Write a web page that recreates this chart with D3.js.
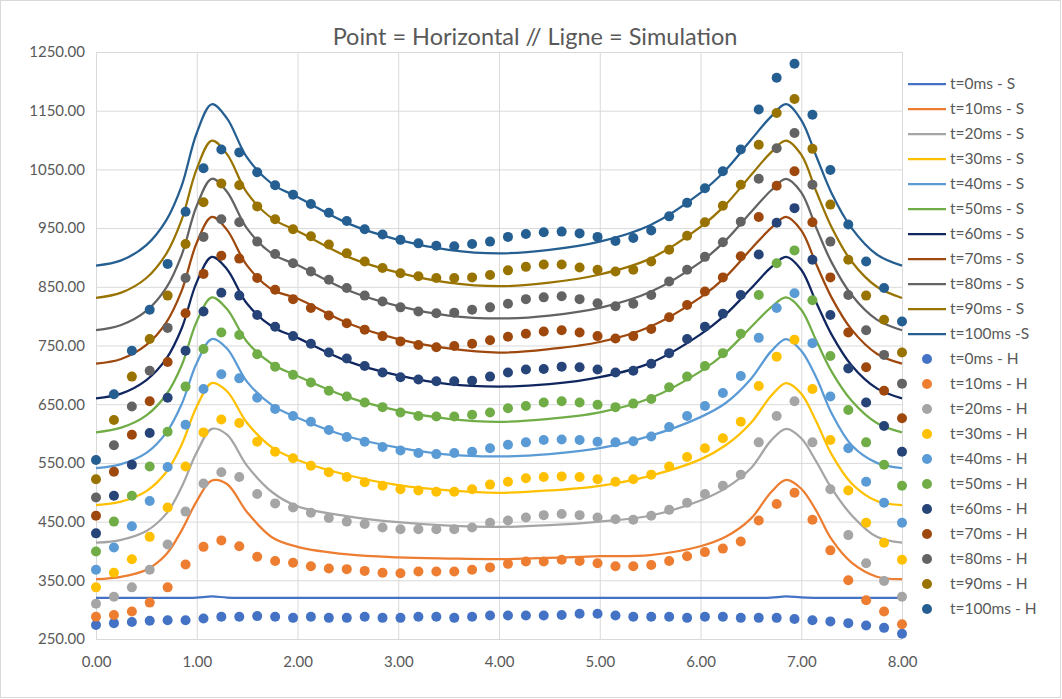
<!DOCTYPE html>
<html><head><meta charset="utf-8">
<script src="https://cdn.jsdelivr.net/npm/d3@7"></script>
<style>
body{margin:0;background:#fff;}
svg text{font-family:Lato,"Open Sans",sans-serif;fill:#595959;}
</style>
</head><body>
<svg id="chart" width="1062" height="699"></svg>
<script>
// ---------- DATA ----------
const title = "Point = Horizontal // Ligne = Simulation";
const yTicks = [250,350,450,550,650,750,850,950,1050,1150,1250];
const yTickLabels = ["250.00","350.00","450.00","550.00","650.00","750.00","850.00","950.00","1050.00","1150.00","1250.00"];
const xTicks = [0,1,2,3,4,5,6,7,8];
const xTickLabels = ["0.00","1.00","2.00","3.00","4.00","5.00","6.00","7.00","8.00"];

// positions of the measured points (horizontal)
const xPts = [0,0.178,0.356,0.533,0.711,0.889,1.067,1.244,1.422,1.6,1.778,1.956,2.133,2.311,2.489,2.667,2.844,3.022,3.2,3.378,3.556,3.733,3.911,4.089,4.267,4.444,4.622,4.8,4.978,5.156,5.333,5.511,5.689,5.867,6.044,6.222,6.4,6.578,6.756,6.933,7.111,7.289,7.467,7.644,7.822,8];
// positions of the simulation curve samples
const xSim = [0,0.25,0.5,0.7,0.85,1.0,1.15,1.3,1.5,1.75,2.0,2.5,3.0,3.5,4.0,4.5,5.0,5.5,6.0,6.25,6.5,6.7,6.85,7.0,7.15,7.3,7.5,7.75,8.0];

const simNames = ["t=0ms - S","t=10ms - S","t=20ms - S","t=30ms - S","t=40ms - S","t=50ms - S","t=60ms - S","t=70ms - S","t=80ms - S","t=90ms - S","t=100ms -S"];
const ptNames = ["t=0ms - H","t=10ms - H","t=20ms - H","t=30ms - H","t=40ms - H","t=50ms - H","t=60ms - H","t=70ms - H","t=80ms - H","t=90ms - H","t=100ms - H"];
const simColors = ["#4472c4","#ed7d31","#a5a5a5","#ffc000","#5b9bd5","#70ad47","#10265f","#9e480e","#636363","#997300","#255e91"];
const ptColors  = ["#4472c4","#ed7d31","#a5a5a5","#ffc000","#5b9bd5","#70ad47","#264478","#9e480e","#636363","#997300","#255e91"];

// simulation values
const sim0   = [320,320,320,320,320.2,320.6,322.5,320.6,320.2,320,320,320,320,320,320,320,320,320,320,320,320,320.6,322.5,320.8,320.2,320,320,320,320];
const sim10  = [352,356,368,395,435,485,520,514,466,423,407,394,389,387,386,388,391,393,408,424,455,500,521,506,468,420,380,356,352];
const sim20  = [414,419,434,464,509,568,608,598,545,500,476,459,449,443,441,444,450,460,486,507,541,588,608,592,552,507,461,424,414];
const sim30  = [478,484,502,535,581,646,686,672,618,576,555,529,512,503,499,503,511,528,556,580,618,664,686,668,620,565,515,485,478];
const sim40  = [541,548,567,602,650,720,761,745,688,648,627,595,576,564,561,565,575,596,628,652,693,740,761,741,695,635,580,550,541];
const sim50  = [602,610,631,667,716,791,832,812,756,718,698,662,639,625,620,625,636,660,706,738,781,815,832,811,758,706,656,618,602];
const sim60  = [660,668,691,728,779,858,901,880,821,782,763,723,699,684,680,684,696,720,769,803,847,883,901,879,823,769,716,677,660];
const sim70  = [719,727,751,790,843,925,969,947,886,845,830,788,761,745,738,744,756,782,832,867,914,950,969,946,888,832,777,736,719];
const sim80  = [776,785,809,849,904,988,1034,1012,949,906,887,844,817,801,796,801,814,841,892,929,977,1014,1034,1011,950,892,836,794,776];
const sim90  = [831,840,865,907,964,1051,1099,1076,1010,966,945,901,874,857,851,857,871,898,952,990,1040,1079,1099,1075,1012,952,893,850,831];
const sim100 = [886,895,921,964,1022,1112,1161,1137,1070,1025,1003,958,930,913,907,913,927,955,1010,1049,1100,1140,1161,1134,1072,1010,950,905,886];

// measured (horizontal) values
const pt0   = [274,277,279,281,282,282,285,288,288,289,288,286,288,286,286,288,286,286,288,288,286,288,290,290,290,290,291,293,293,290,288,288,288,286,288,288,286,286,286,284,282,280,277,273,269,259];
const pt10  = [288,291,297,312,338,377,407,418,408,390,383,380,374,370,369,366,363,362,365,365,365,368,372,378,382,382,385,383,379,374,374,376,383,391,398,404,416,452,480,499,453,401,350,316,297,275];
const pt20  = [310,322,338,368,411,467,515,534,526,497,481,474,465,456,450,446,440,437,437,437,437,440,448,452,457,461,463,461,457,454,453,460,470,482,497,511,530,585,630,655,585,505,427,379,349,322];
const pt30  = [338,363,386,424,474,544,602,624,618,586,569,558,545,534,526,517,511,505,503,501,501,505,513,518,524,526,527,526,522,518,522,530,544,560,575,592,620,681,731,760,676,589,503,448,414,385];
const pt40  = [368,406,442,485,543,615,676,701,694,661,642,630,620,606,594,586,577,571,567,565,567,569,575,581,585,589,590,589,586,585,587,595,611,630,647,669,698,763,814,839,754,663,575,518,482,448];
const pt50  = [399,450,494,544,603,680,744,772,768,735,714,700,687,673,663,653,645,636,630,629,629,632,636,643,647,653,655,653,649,645,651,659,679,697,715,737,770,836,890,912,827,732,640,585,547,511];
const pt60  = [430,494,547,601,661,741,808,840,835,802,782,766,753,738,728,715,704,696,692,689,689,690,697,704,709,710,714,713,709,704,707,719,737,761,782,804,836,905,959,984,896,802,711,653,613,569];
const pt70  = [460,535,598,655,722,805,872,903,898,865,845,829,814,801,788,777,766,757,751,747,749,753,759,765,770,774,776,772,766,762,766,778,798,819,842,866,902,969,1022,1047,960,866,772,713,673,626];
const pt80  = [491,580,646,707,780,865,935,965,960,927,906,890,876,862,848,835,825,815,808,805,806,811,815,821,829,832,834,829,822,817,821,836,859,879,901,926,961,1034,1086,1112,1024,927,836,776,734,685];
const pt90  = [522,623,697,761,835,923,994,1026,1023,987,965,948,936,922,907,893,882,873,868,865,865,866,870,878,884,888,888,883,879,876,879,893,913,937,960,988,1024,1092,1146,1170,1085,990,896,835,794,738];
const pt100 = [555,667,741,811,889,978,1052,1084,1079,1045,1023,1007,991,976,962,948,939,930,924,920,919,923,927,935,940,943,944,941,935,928,933,946,970,993,1018,1047,1084,1152,1206,1230,1143,1049,956,893,848,791];

const simSeries = [sim0,sim10,sim20,sim30,sim40,sim50,sim60,sim70,sim80,sim90,sim100];
const ptSeries  = [pt0,pt10,pt20,pt30,pt40,pt50,pt60,pt70,pt80,pt90,pt100];

// ---------- DRAW ----------
const svg = d3.select("#chart");
const L = 96, R = 902, T = 52, B = 639;
const x = d3.scaleLinear().domain([0,8]).range([L,R]);
const y = d3.scaleLinear().domain([250,1250]).range([B,T]);

svg.append("rect").attr("x",0.5).attr("y",0.5).attr("width",1060).attr("height",697)
  .attr("fill","#fff").attr("stroke","#d9d9d9");

// y axis + horizontal grid
const gy = svg.append("g").attr("transform",`translate(${L},0)`)
  .call(d3.axisLeft(y).tickValues(yTicks).tickSize(-(R-L)).tickPadding(11)
        .tickFormat((d,i)=>yTickLabels[i]));
gy.select(".domain").remove();
gy.selectAll("line").attr("stroke","#d9d9d9").attr("stroke-width",1);
gy.selectAll("text").attr("font-size",15).attr("fill","#595959");

// x axis + vertical grid
const gx = svg.append("g").attr("transform",`translate(0,${B})`)
  .call(d3.axisBottom(x).tickValues(xTicks).tickSize(-(B-T)).tickPadding(17)
        .tickFormat((d,i)=>xTickLabels[i]));
gx.select(".domain").remove();
gx.selectAll("line").attr("stroke","#d9d9d9").attr("stroke-width",1);
gx.selectAll("text").attr("font-size",15).attr("fill","#595959");

// title
svg.append("text").attr("x",535).attr("y",45).attr("text-anchor","middle")
  .attr("font-size",23.5).attr("fill","#595959").text(title);

// simulation lines
const line = d3.line().x((d,i)=>x(xSim[i])).y(d=>y(d)).curve(d3.curveCatmullRom.alpha(0.5));
simSeries.forEach((s,k)=>{
  svg.append("path").datum(s).attr("d",line).attr("fill","none")
    .attr("stroke",simColors[k]).attr("stroke-width",2.25).attr("stroke-linejoin","round");
});

// measured points
ptSeries.forEach((s,k)=>{
  svg.append("g").selectAll("circle").data(s).join("circle")
    .attr("cx",(d,i)=>x(xPts[i])).attr("cy",d=>y(d)).attr("r",5)
    .attr("fill",ptColors[k]);
});

// legend
const lg = svg.append("g");
simNames.forEach((n,k)=>{
  const yy = 84 + 25*k;
  lg.append("line").attr("x1",908).attr("x2",946).attr("y1",yy).attr("y2",yy)
    .attr("stroke",simColors[k]).attr("stroke-width",2.25);
  lg.append("text").attr("x",950).attr("y",yy).attr("dy","0.35em").attr("font-size",15.5).text(n);
});
ptNames.forEach((n,k)=>{
  const yy = 84 + 25*(k+11);
  lg.append("circle").attr("cx",927).attr("cy",yy).attr("r",5).attr("fill",ptColors[k]);
  lg.append("text").attr("x",950).attr("y",yy).attr("dy","0.35em").attr("font-size",15.5).text(n);
});
</script>
</body></html>
